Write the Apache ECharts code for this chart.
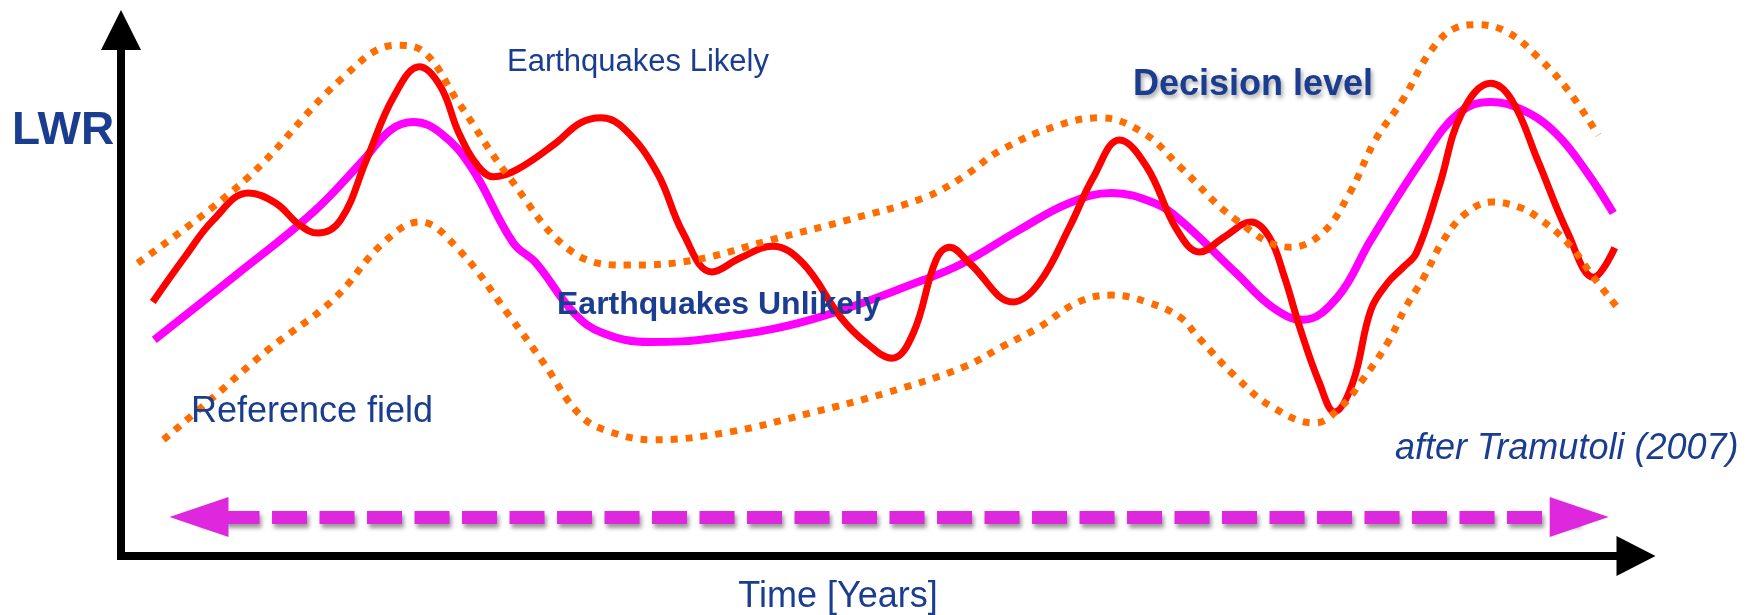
<!DOCTYPE html>
<html>
<head>
<meta charset="utf-8">
<title>LWR decision level</title>
<script src="https://cdn.jsdelivr.net/npm/echarts@6/dist/echarts.min.js"></script>
<style>
  html, body { margin: 0; padding: 0; background: #fff; }
  #chart { width: 1752px; height: 615px; }
</style>
</head>
<body>
<div id="chart"></div>
<script>
// time (0-100) / LWR (0-100) pairs
const signalPts = [
  [2.1, 48.3], [4.2, 56.8], [6.1, 63.9], [8.4, 69.0], [10.2, 67.1], [11.8, 62.9], [13.0, 61.4],
  [14.5, 63.9], [16.2, 75.3], [18.0, 87.3], [19.7, 93.0], [21.1, 89.2], [22.3, 80.4], [23.6, 74.0],
  [24.6, 72.1], [26.1, 73.4], [28.7, 78.5], [30.3, 82.3], [31.7, 83.3], [33.3, 81.0], [35.4, 72.8],
  [37.1, 61.4], [39.0, 54.0], [40.9, 56.7], [43.0, 58.9], [45.0, 55.7], [47.5, 45.4], [49.2, 40.5],
  [50.9, 37.6], [52.3, 42.4], [53.8, 56.3], [54.7, 58.7], [56.0, 55.7], [58.9, 48.3],
  [60.6, 51.9], [62.6, 62.5], [64.2, 72.1], [65.9, 79.1], [67.7, 74.0], [69.7, 62.0], [71.2, 57.8],
  [72.8, 60.6], [74.6, 63.5], [75.8, 60.6], [76.8, 53.0], [77.8, 43.5], [79.1, 32.9], [80.1, 27.4],
  [81.3, 32.9], [82.5, 46.8], [83.6, 51.9], [84.6, 54.8], [85.5, 57.6], [87.0, 70.2], [88.5, 84.2],
  [90.4, 89.9], [91.8, 86.7], [93.5, 75.3], [95.5, 61.4], [97.2, 53.0], [98.6, 58.6]
];

const refPts = [
  [2.2, 41.1], [7.5, 53.2], [12.7, 65.4], [16.0, 75.3], [17.8, 81.0], [19.3, 82.5], [21.1, 80.4],
  [23.1, 74.0], [25.9, 59.5], [27.4, 55.7], [29.9, 46.2], [31.8, 42.4], [34.9, 40.7], [39.1, 41.4],
  [45.5, 44.9], [53.0, 52.5], [55.6, 55.7], [59.3, 62.0], [62.6, 67.1], [65.4, 69.0], [68.2, 67.1],
  [69.9, 63.9], [73.6, 53.8], [76.0, 47.3], [78.0, 44.9], [80.3, 49.2], [82.5, 60.1], [86.0, 75.9],
  [88.3, 84.2], [90.4, 86.3], [92.5, 84.8], [94.7, 80.4], [96.8, 72.8], [98.5, 65.2]
];

const upperPts = [
  [1.1, 55.7], [8.2, 71.5], [14.7, 91.1], [18.2, 97.1], [19.8, 96.2], [22.3, 86.1], [25.6, 72.1],
  [29.9, 57.6], [33.6, 55.3], [37.9, 56.3], [42.9, 60.1], [48.0, 63.9], [53.0, 68.1],
  [55.6, 72.1], [58.1, 77.2], [61.9, 81.9], [64.6, 83.3], [67.5, 80.4], [69.9, 74.0], [73.6, 63.9],
  [77.2, 58.7], [79.3, 61.4], [81.1, 69.0], [82.8, 79.1], [84.6, 86.7], [86.5, 96.2], [88.1, 100.4],
  [89.5, 101.0], [91.5, 99.6], [93.5, 94.9], [95.5, 88.6], [97.5, 80.0]
];

const lowerPts = [
  [2.8, 22.1], [6.1, 30.2], [9.7, 39.2], [14.0, 48.7], [17.3, 59.5], [19.7, 63.5], [22.3, 58.2],
  [25.6, 45.8], [27.9, 36.7], [30.3, 26.8], [32.3, 23.6], [35.1, 22.1], [40.2, 23.6], [45.5, 27.2],
  [50.5, 31.0], [55.6, 35.9], [58.1, 39.7], [60.6, 43.5], [63.2, 48.3], [65.4, 49.6], [67.7, 48.3],
  [69.9, 45.4], [71.1, 41.6], [73.6, 34.0], [76.0, 28.3], [78.8, 25.3], [80.5, 28.3], [81.8, 32.9],
  [83.6, 40.5], [84.8, 47.3], [86.0, 53.0], [87.3, 60.1], [88.8, 65.2], [90.5, 67.3], [92.3, 66.3],
  [93.5, 64.4], [95.5, 59.5], [97.2, 53.0], [99.0, 46.4]
];

// span of the double-headed time arrow
const spanStart = [5.15, 7.4];
const spanEnd = [96.25, 7.4];

const yName = 'LWR';
const xName = 'Time [Years]';
const notes = {
  likely: 'Earthquakes Likely',
  unlikely: 'Earthquakes Unlikely',
  decision: 'Decision level',
  reference: 'Reference field',
  source: 'after Tramutoli (2007)'
};

const FONT = '"Liberation Sans", Arial, Helvetica, sans-serif';
const BLUE = '#1B3D8F';

const chart = echarts.init(document.getElementById('chart'), null, { renderer: 'canvas' });

const axisCommon = {
  type: 'value',
  min: 0,
  max: 100,
  splitLine: { show: false },
  axisTick: { show: false },
  axisLabel: { show: false }
};

// helper for the free text
const label = (text, x, y, font, extra) => ({
  type: 'text',
  x: x,
  y: y,
  z: 100,
  style: Object.assign({
    text: text,
    font: font,
    fill: BLUE,
    textVerticalAlign: 'middle',
    verticalAlign: 'middle'
  }, extra || {})
});

const dotted = { color: '#FF6D00', width: 7, type: [7, 8], cap: 'butt' };

const option = {
  animation: false,
  grid: { left: 121, right: 116, top: 30, bottom: 59, containLabel: false, outerBoundsMode: 'none' },
  xAxis: Object.assign({}, axisCommon, {
    axisLine: {
      onZero: false,
      symbol: ['none', 'triangle'],
      symbolSize: [40, 39],
      lineStyle: { color: '#000', width: 8, cap: 'square' }
    }
  }),
  yAxis: Object.assign({}, axisCommon, {
    axisLine: {
      onZero: false,
      symbol: ['none', 'triangle'],
      symbolSize: [40, 40],
      lineStyle: { color: '#000', width: 8, cap: 'square' }
    }
  }),
  series: [
    {
      name: 'reference',
      type: 'line',
      data: refPts,
      smooth: 0.4,
      showSymbol: false,
      clip: false,
      z: 2,
      lineStyle: { color: '#FF00FF', width: 8 }
    },
    {
      name: 'signal',
      type: 'line',
      data: signalPts,
      smooth: 0.4,
      showSymbol: false,
      clip: false,
      z: 3,
      lineStyle: { color: '#FF0000', width: 7 }
    },
    {
      name: 'upper',
      type: 'line',
      data: upperPts,
      smooth: 0.4,
      showSymbol: false,
      clip: false,
      z: 4,
      lineStyle: dotted
    },
    {
      name: 'lower',
      type: 'line',
      data: lowerPts,
      smooth: 0.4,
      showSymbol: false,
      clip: false,
      z: 4,
      lineStyle: dotted
    },
    {
      name: 'span',
      type: 'line',
      data: [],
      z: 5,
      markLine: {
        silent: true,
        symbol: ['triangle', 'triangle'],
        symbolSize: [40, 59],
        label: { show: false },
        lineStyle: {
          color: '#DE28DE',
          width: 13,
          type: [35, 12.5],
          dashOffset: 22,
          shadowColor: 'rgba(0,0,0,0.4)',
          shadowBlur: 4,
          shadowOffsetX: 2,
          shadowOffsetY: 4
        },
        data: [[{ coord: spanStart }, { coord: spanEnd }]]
      }
    }
  ],
  graphic: [
    label(yName, 12, 131, 'bold 46px ' + FONT),
    label(notes.likely, 507, 62, '31px ' + FONT),
    label(notes.decision, 1133, 85, 'bold 36px ' + FONT, {
      textShadowColor: 'rgba(0,0,0,0.35)',
      textShadowBlur: 4,
      textShadowOffsetX: 2,
      textShadowOffsetY: 3
    }),
    label(notes.unlikely, 557, 305, 'bold 32px ' + FONT),
    label(notes.reference, 191, 412, '36px ' + FONT),
    label(notes.source, 1395, 449, 'italic 36px ' + FONT),
    label(xName, 838, 597, '36px ' + FONT, { textAlign: 'center', align: 'center' })
  ]
};

chart.setOption(option);
</script>
</body>
</html>
